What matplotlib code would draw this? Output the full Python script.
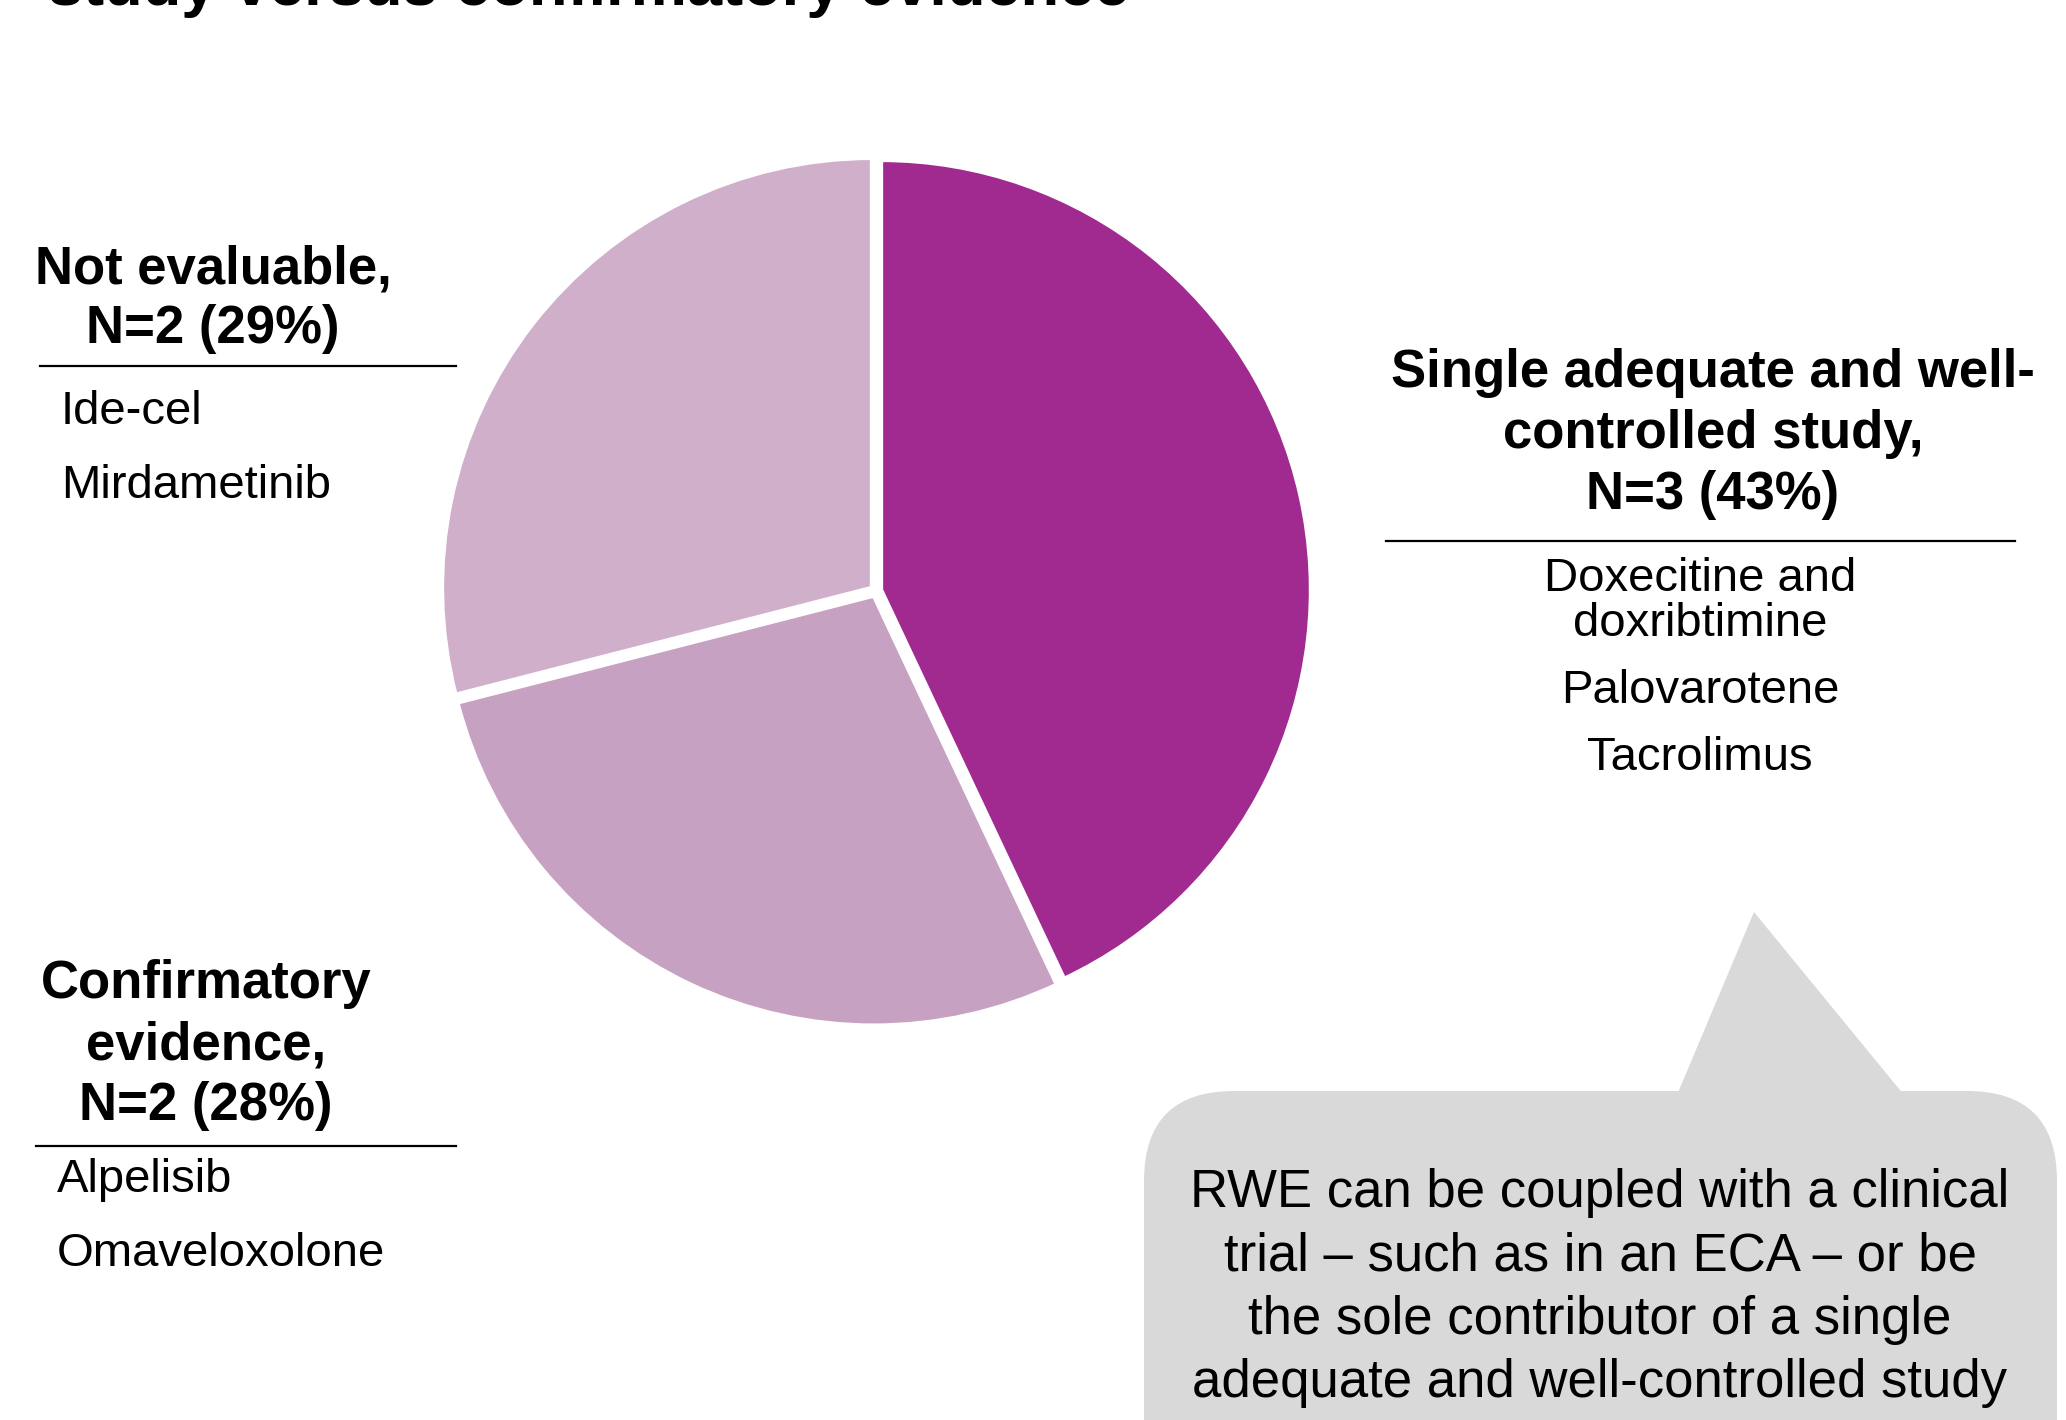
import matplotlib
matplotlib.use("Agg")
import matplotlib.pyplot as plt
from matplotlib.patches import FancyBboxPatch, Polygon

plt.rcParams['font.family'] = ['Liberation Sans', 'DejaVu Sans']

W, H = 2066, 1420

# data
categories = ["Single adequate and well-\ncontrolled study", "Confirmatory\nevidence", "Not evaluable"]
counts = [3, 2, 2]
shares = [43, 28, 29]
colors = ["#A02A8F", "#C7A1C1", "#CFAFCA"]
single_items = ["Doxecitine and\ndoxribtimine", "Palovarotene", "Tacrolimus"]
confirm_items = ["Alpelisib", "Omaveloxolone"]
noteval_items = ["Ide-cel", "Mirdametinib"]
title = "study versus confirmatory evidence"
callout = ("RWE can be coupled with a clinical\ntrial \u2013 such as in an ECA \u2013 or be\n"
           "the sole contributor of a single\nadequate and well-controlled study")

fig = plt.figure(figsize=(W / 100, H / 100), dpi=100)

# pie, centred at (876, 591) px with radius ~432 px
cx, cy, r = 876, 591, 432
pax = fig.add_axes([(cx - r) / W, (H - cy - r) / H, 2 * r / W, 2 * r / H])
pax.pie(shares, colors=colors, startangle=90, counterclock=False,
        explode=[0.012] * 3, radius=0.995,
        wedgeprops=dict(edgecolor="white", linewidth=3))
pax.set_xlim(-1, 1)
pax.set_ylim(-1, 1)
pax.axis("off")

# overlay in pixel coordinates for text, rules and the callout
ax = fig.add_axes([0, 0, 1, 1])
ax.set_xlim(0, W)
ax.set_ylim(H, 0)
ax.axis("off")

ax.text(48, 5, title, fontsize=45.5, fontweight="bold", ha="left", va="baseline")

BOLD, REG = 38, 34


def heading(label, n, pct, x, y0, step):
    lines = f"{label},\nN={n} ({pct}%)".split("\n")
    for i, ln in enumerate(lines):
        ax.text(x, y0 + i * step + 19, ln, fontsize=BOLD, fontweight="bold",
                ha="center", va="baseline")


def items(names, x, y0, step, inner, ha):
    y = y0
    for name in names:
        for ln in name.split("\n"):
            ax.text(x, y + 17, ln, fontsize=REG, ha=ha, va="baseline")
            y += inner
        y += step - inner


# single adequate and well-controlled study
heading(categories[0], counts[0], shares[0], 1713, 368, 61)
ax.plot([1386, 2015], [541, 541], color="black", lw=1.6)
items(single_items, 1700, 574, 67, 45, "center")

# not evaluable
heading(categories[2], counts[2], shares[2], 213, 265, 59)
ax.plot([40, 456], [366, 366], color="black", lw=1.6)
items(noteval_items, 61, 407, 74, 74, "left")

# confirmatory evidence
heading(categories[1], counts[1], shares[1], 206, 979, 61)
ax.plot([36, 456], [1146, 1146], color="black", lw=1.6)
items(confirm_items, 57, 1175, 74, 74, "left")

# callout bubble
grey = "#D9D9D9"
ax.add_patch(FancyBboxPatch((1144, 1091), 2057 - 1144, 500,
                            boxstyle="round,pad=0,rounding_size=90",
                            facecolor=grey, edgecolor="none"))
ax.add_patch(Polygon([(1677, 1095), (1754, 912), (1904, 1095)],
                     closed=True, facecolor=grey, edgecolor="none"))
for i, ln in enumerate(callout.split("\n")):
    ax.text(1600, 1188 + i * 63.5 + 19, ln, fontsize=BOLD, ha="center", va="baseline")

fig.savefig("out.png", dpi=100)
